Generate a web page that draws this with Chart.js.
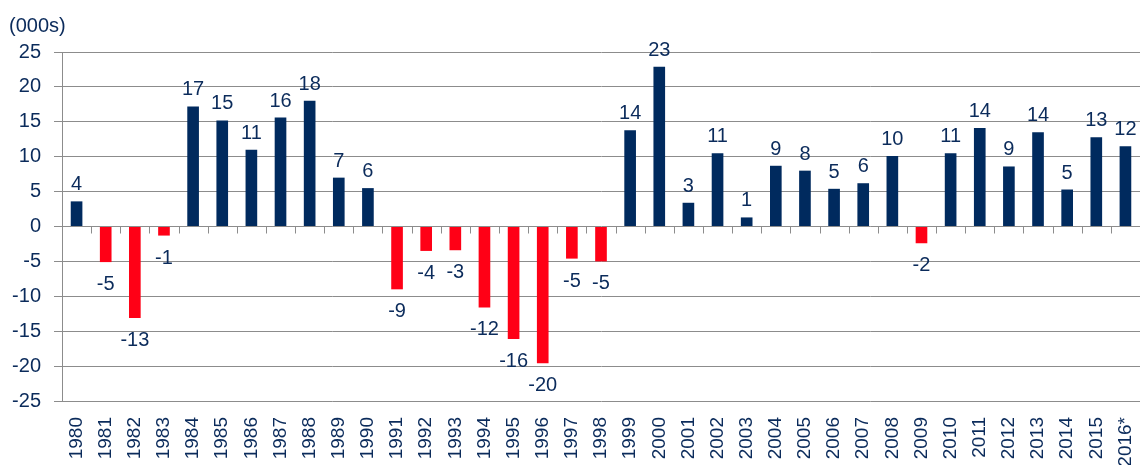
<!DOCTYPE html>
<html>
<head>
<meta charset="utf-8">
<style>
  html, body { margin: 0; padding: 0; background: #ffffff; }
  #wrap { width: 1140px; height: 465px; position: relative; }
</style>
<script src="https://cdn.jsdelivr.net/npm/chart.js@4/dist/chart.umd.min.js"></script>
</head>
<body>
<div id="wrap"><canvas id="chart"></canvas></div>
<script>
'use strict';

// years on the x axis
const years = [
  '1980', '1981', '1982', '1983', '1984', '1985', '1986', '1987', '1988', '1989',
  '1990', '1991', '1992', '1993', '1994', '1995', '1996', '1997', '1998', '1999',
  '2000', '2001', '2002', '2003', '2004', '2005', '2006', '2007', '2008', '2009',
  '2010', '2011', '2012', '2013', '2014', '2015', '2016*'
];

// change in thousands
const values = [
  3.6, -5.1, -13.1, -1.3, 17.2, 15.2, 11.0, 15.6, 18.0, 7.0,
  5.5, -9.0, -3.5, -3.4, -11.6, -16.1, -19.6, -4.6, -5.0, 13.8,
  22.9, 3.4, 10.5, 1.3, 8.7, 8.0, 5.4, 6.2, 10.1, -2.4,
  10.5, 14.1, 8.6, 13.5, 5.3, 12.8, 11.5
];

// printed labels above / below each bar
const valueLabels = [
  '4', '-5', '-13', '-1', '17', '15', '11', '16', '18', '7',
  '6', '-9', '-4', '-3', '-12', '-16', '-20', '-5', '-5', '14',
  '23', '3', '11', '1', '9', '8', '5', '6', '10', '-2',
  '11', '14', '9', '14', '5', '13', '12'
];

const yMin = -25;
const yMax = 25;
const yStep = 5;

const navy = '#002A5E';
const red = '#FF0016';
const textColor = '#0B2B5B';
const gridColor = '#8C8C8C';

Chart.defaults.font.family = '"Liberation Sans", Arial, sans-serif';
Chart.defaults.color = textColor;

const barColors = values.map(v => (v < 0 ? red : navy));

// value labels on the bar ends
const valueLabelPlugin = {
  id: 'valueLabels',
  afterDatasetsDraw(chart) {
    const ctx = chart.ctx;
    const meta = chart.getDatasetMeta(0);
    ctx.save();
    ctx.font = '20px "Liberation Sans", Arial, sans-serif';
    ctx.fillStyle = textColor;
    ctx.textAlign = 'center';
    ctx.textBaseline = 'alphabetic';
    meta.data.forEach((bar, i) => {
      if (values[i] >= 0) {
        ctx.fillText(valueLabels[i], bar.x, bar.y - 11);
      } else {
        ctx.fillText(valueLabels[i], bar.x, bar.y + 28);
      }
    });
    ctx.restore();
  }
};

// small tick marks along the zero line between categories
const zeroTicksPlugin = {
  id: 'zeroTicks',
  afterDatasetsDraw(chart) {
    const ctx = chart.ctx;
    const xs = chart.scales.x;
    const ys = chart.scales.y;
    const zero = ys.getPixelForValue(0);
    const step = xs.width / years.length;
    ctx.save();
    ctx.strokeStyle = gridColor;
    ctx.lineWidth = 1;
    ctx.beginPath();
    for (let i = 1; i < years.length; i++) {
      const x = Math.round(xs.getPixelForValue(i) - step / 2) + 0.5;
      ctx.moveTo(x, zero);
      ctx.lineTo(x, zero + 7);
    }
    ctx.stroke();
    ctx.restore();
  }
};

new Chart(document.getElementById('chart'), {
  type: 'bar',
  data: {
    labels: years,
    datasets: [{
      data: values,
      backgroundColor: barColors,
      borderWidth: 0,
      categoryPercentage: 1,
      barPercentage: 0.4
    }]
  },
  options: {
    responsive: true,
    maintainAspectRatio: false,
    animation: false,
    layout: {
      padding: { left: 9, right: 0, top: 0, bottom: 0 }
    },
    plugins: {
      legend: { display: false },
      tooltip: { enabled: false },
      title: {
        display: true,
        text: '(000s)',
        align: 'start',
        color: textColor,
        font: { size: 20, weight: 'normal' },
        padding: { top: 14, bottom: 14 }
      }
    },
    scales: {
      x: {
        grid: { display: false, drawTicks: false },
        border: { display: false },
        ticks: {
          color: textColor,
          font: { size: 19 },
          minRotation: 90,
          maxRotation: 90,
          autoSkip: false,
          padding: 16
        },
        afterFit(scale) {
          scale.height = 64;
          scale.paddingLeft = 0;
          scale.paddingRight = 0;
        }
      },
      y: {
        min: yMin,
        max: yMax,
        grid: {
          color: gridColor,
          lineWidth: 1,
          tickLength: 8,
          tickColor: gridColor
        },
        border: { display: true, color: gridColor, width: 1 },
        ticks: {
          stepSize: yStep,
          color: textColor,
          font: { size: 20 },
          padding: 13
        },
        afterFit(scale) {
          scale.width = 53;
        }
      }
    }
  },
  plugins: [valueLabelPlugin, zeroTicksPlugin]
});
</script>
</body>
</html>
